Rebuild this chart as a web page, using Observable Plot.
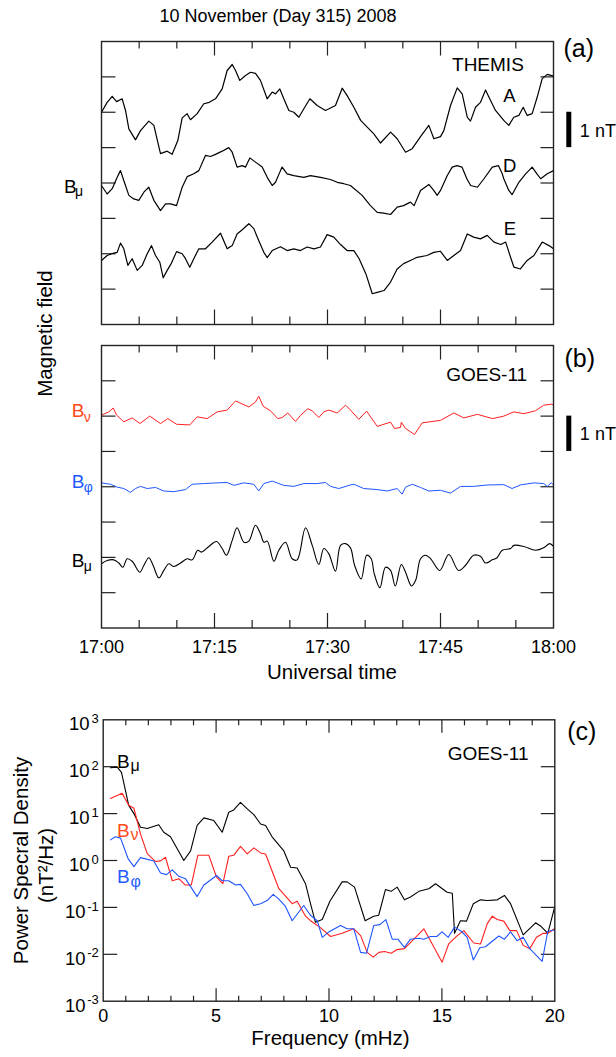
<!DOCTYPE html>
<html>
<head>
<meta charset="utf-8">
<script src="https://cdn.jsdelivr.net/npm/d3@7"></script>
<script src="https://cdn.jsdelivr.net/npm/@observablehq/plot@0.6"></script>
<style>
html, body { margin: 0; padding: 0; background: #fff; }
#root { position: relative; width: 616px; height: 1057px; overflow: hidden; background: #fff;
  font-family: "Liberation Sans", Arial, Helvetica, sans-serif; }
#root svg { position: absolute; left: 0; }
#title { position: absolute; left: 0; top: 6.5px; width: 556px; text-align: center;
  font-size: 18px; line-height: 18px; color: #000; z-index: 5; }
</style>
</head>
<body>
<div id="root"><div id="title">10 November (Day 315) 2008</div></div>
<script>
// ---------------- DATA ----------------
// time in minutes after 17:00 UT, field in nT (arbitrary offsets)
const timeTicks = [0, 15, 30, 45, 60];
const timeTickLabels = ["17:00", "17:15", "17:30", "17:45", "18:00"];
const timeMinor = [5, 10, 20, 25, 35, 40, 50, 55];
const timeMajorInner = [15, 30, 45];
const fieldTicks = [1, 2, 3, 4, 5, 6, 7];

const themisA = [[0,6.00],[0.75,6.28],[1.42,6.45],[2,6.30],[2.74,6.38],[3.19,6.05],[3.63,5.53],[4.51,5.22],[5.18,5.48],[6.28,5.75],[6.95,5.63],[7.83,4.83],[8.72,4.90],[9.38,4.81],[10.13,5.20],[10.71,5.84],[11.37,5.96],[11.81,5.79],[12.7,5.96],[13.58,6.24],[14.3,6.28],[15.13,6.38],[16.02,6.66],[16.68,7.18],[17.35,7.35],[17.79,7.18],[18.36,6.90],[19.12,7.04],[19.78,7.13],[20.44,7.10],[21.1,6.90],[21.99,6.38],[22.66,6.57],[23.1,6.52],[23.67,6.66],[24.2,6.38],[24.87,6.05],[25.53,6.00],[26.2,5.86],[26.86,6.10],[27.66,6.38],[28.63,6.19],[29.73,6.05],[31.06,6.19],[31.95,6.68],[32.61,6.47],[33.5,6.14],[34.4,5.77],[35.27,5.58],[36.15,5.39],[37.04,5.13],[38.37,5.44],[39.25,5.25],[40.36,4.87],[41.24,4.97],[42.35,5.31],[43.45,5.63],[44.12,5.25],[45,5.31],[45.44,5.48],[46.33,6.19],[47.22,6.69],[47.88,6.52],[48.55,5.86],[48.98,5.75],[49.65,6.14],[50.31,6.28],[50.98,6.63],[51.42,6.43],[52.3,6.05],[53.4,5.77],[54.07,5.63],[54.73,5.86],[55.4,5.91],[55.98,6.14],[56.51,5.91],[57.17,5.96],[57.84,6.43],[58.5,6.95],[59.17,7.07],[60,7.02]];

const themisD = [[0,3.93],[0.75,3.69],[1.42,3.84],[2.08,4.16],[2.52,4.35],[2.96,4.07],[3.63,3.65],[4.29,3.55],[4.95,3.51],[5.62,3.74],[6.28,3.88],[6.95,3.51],[7.83,3.22],[8.5,3.41],[9.16,3.41],[9.96,3.36],[10.71,3.88],[11.37,4.18],[12.25,4.26],[12.92,4.35],[13.8,4.78],[14.47,4.75],[15.13,4.81],[16.02,4.90],[16.9,5.00],[17.35,4.87],[18.0,4.45],[18.68,4.49],[19.12,4.45],[19.69,4.71],[20.44,4.59],[21.33,4.45],[22.0,4.16],[22.66,3.93],[23.1,4.02],[23.76,4.35],[23.98,4.45],[24.64,4.26],[25.53,4.21],[26.86,4.16],[27.74,4.21],[29.07,4.16],[30.4,4.10],[31.29,4.02],[32.17,3.98],[33.05,3.93],[34.6,3.65],[35.7,3.36],[36.6,3.17],[37.45,3.15],[38.37,3.11],[39.25,3.32],[40.1,3.36],[41.0,3.46],[41.5,3.36],[42.35,3.79],[43.45,3.96],[44.1,3.79],[44.56,3.65],[45,3.79],[45.9,4.21],[46.55,4.45],[47.2,4.49],[47.85,4.45],[48.5,4.12],[49.0,3.93],[49.9,3.88],[50.77,4.12],[51.87,4.45],[52.7,4.49],[53.2,4.26],[53.4,4.12],[54.07,3.79],[54.5,3.67],[55.4,4.02],[56.3,4.26],[57.17,4.45],[57.8,4.26],[58.3,4.12],[59.17,4.26],[60,4.35]];

const themisE = [[0,1.81],[0.75,1.95],[1.63,2.02],[2.08,2.04],[2.52,2.30],[2.96,2.14],[3.5,1.67],[4.07,1.86],[4.74,1.53],[5.4,1.67],[6.07,2.00],[6.64,2.23],[7.17,1.95],[7.74,1.76],[8.19,1.32],[8.72,1.53],[9.25,1.72],[9.96,2.06],[10.71,2.00],[11.15,1.86],[11.72,1.62],[12.25,1.86],[12.92,2.14],[13.8,2.14],[14.69,2.33],[15.8,2.58],[16.68,2.14],[17.35,2.23],[18.0,2.56],[18.68,2.68],[19.56,2.85],[20.22,2.71],[20.88,2.37],[21.55,2.04],[22.0,1.89],[22.66,2.09],[23.76,2.20],[24.64,2.09],[25.53,2.14],[26.4,2.09],[27.3,2.19],[28.2,2.14],[29.07,2.19],[29.95,2.54],[30.84,2.47],[31.73,2.26],[32.6,2.09],[33.5,2.09],[34.2,1.86],[35.1,1.43],[35.94,0.87],[36.6,0.91],[37.5,0.96],[38.37,1.20],[39.25,1.57],[40.1,1.72],[41.0,1.81],[41.9,1.90],[43.2,1.95],[44.1,2.04],[45,2.07],[45.9,1.81],[46.77,1.95],[47.66,2.09],[48.55,2.56],[49.4,2.47],[50.3,2.42],[51.2,2.52],[52.1,2.33],[53,2.26],[53.65,2.33],[54.3,1.90],[54.75,1.62],[55.6,1.57],[56.5,1.81],[57.4,1.95],[58.5,2.33],[59.4,2.23],[60,2.14]];

const goesBnu = [[0,6.03],[0.97,6.12],[1.55,6.23],[2.0,6.03],[2.96,5.84],[4.07,5.95],[5.1,5.79],[6.4,6.00],[7.83,5.79],[8.8,5.93],[9.96,5.77],[11.72,5.75],[12.7,5.98],[14.03,5.93],[15.36,6.12],[16.68,6.17],[17.79,6.43],[19.56,6.26],[20.44,6.40],[20.88,6.56],[21.46,6.28],[22.43,6.15],[23.4,5.93],[23.98,5.96],[24.73,6.09],[25.75,5.85],[26.42,6.02],[27.39,6.21],[27.97,6.15],[28.85,5.96],[29.51,6.12],[30.18,6.17],[31.29,6.09],[32.4,6.31],[33.05,6.17],[34.15,5.91],[35.2,6.14],[36.6,5.71],[38.37,5.83],[38.9,5.65],[39.7,5.68],[39.8,5.83],[40.36,5.65],[41.55,5.48],[42.57,5.81],[45.0,5.88],[46.77,6.09],[48.1,5.95],[49.9,6.05],[51.9,5.93],[53.4,6.00],[54.73,6.12],[56.06,6.07],[57.6,6.15],[58.7,6.31],[59.8,6.34],[60,6.30]];

const goesBphi = [[0,4.11],[1.2,4.07],[2.08,3.99],[2.96,3.95],[3.85,3.84],[4.51,3.95],[5.18,4.01],[6.07,3.95],[7.17,3.98],[8.27,3.88],[9.6,3.86],[11.15,3.92],[12.04,4.07],[13.58,4.09],[15.36,4.11],[16.68,4.12],[17.57,4.04],[18.9,4.11],[20.22,4.07],[20.88,3.88],[21.55,4.09],[22.66,4.16],[24.2,4.04],[25.53,4.01],[26.86,4.09],[28.63,4.09],[29.73,4.12],[30.4,4.01],[31.5,3.95],[33.05,4.05],[33.5,4.07],[34.8,3.95],[36.6,3.92],[37.93,3.88],[39.25,3.95],[39.9,3.79],[40.36,3.99],[41.25,4.07],[42.35,3.98],[43.45,3.88],[45,3.90],[46.33,3.82],[47.66,4.01],[49.4,4.01],[51.2,4.05],[53.4,4.06],[54.5,3.95],[55.6,4.05],[57.4,4.11],[58.7,4.09],[59.17,4.01],[59.7,4.11],[60,4.05]];

const goesBmu = [[0,1.82],[0.75,1.91],[1.63,1.93],[2.3,1.84],[2.83,1.72],[3.41,1.96],[4.07,1.89],[5.08,1.58],[5.62,1.77],[6.28,1.99],[6.86,1.77],[7.61,1.42],[8.27,1.63],[8.94,1.82],[9.6,1.74],[10.49,1.84],[11.37,1.96],[12.04,1.93],[12.78,2.20],[13.27,2.15],[14.25,2.31],[15.27,2.45],[16.02,2.25],[16.59,2.06],[17.35,2.48],[18.0,2.84],[18.9,2.43],[19.56,2.46],[20.44,2.91],[21.1,2.67],[21.55,2.43],[22.0,2.46],[22.88,1.89],[23.54,2.20],[24.42,2.43],[25.31,1.96],[25.97,1.93],[27.08,2.84],[27.97,2.34],[28.85,1.80],[29.51,2.25],[30.18,2.10],[31.06,1.61],[31.73,2.34],[32.4,2.39],[33.05,2.27],[33.6,1.77],[34.47,1.39],[35.2,2.06],[35.8,1.96],[36.2,1.54],[36.95,1.14],[37.7,1.72],[38.37,1.63],[39.0,1.19],[39.8,1.80],[40.36,1.58],[41.15,1.19],[41.7,1.35],[42.35,1.96],[43.0,2.06],[43.7,1.96],[44.9,1.63],[46.1,2.08],[47.4,1.63],[48.3,1.77],[49.4,2.06],[50.3,2.03],[50.98,1.84],[51.87,1.93],[52.5,1.99],[53.2,2.20],[54.3,2.25],[54.75,2.34],[56.06,2.31],[57.6,2.20],[58.7,2.27],[59.5,2.39],[60,2.31]];

// power spectral density: frequency (mHz), PSD (nT^2/Hz)
const freqTicks = [0, 5, 10, 15, 20];
const freqMinor = [1,2,3,4,6,7,8,9,11,12,13,14,16,17,18,19];
const freqMajorInner = [5, 10, 15];
const psdTicks = [1e-3, 1e-2, 1e-1, 1e0, 1e1, 1e2, 1e3];
const psdExponents = ["-3", "-2", "-1", "0", "1", "2", "3"];
const psdInnerTicks = [1e-2, 1e-1, 1e0, 1e1, 1e2];

const psdBmu = [[0.32,95],[0.62,98],[0.81,76],[1.13,15],[1.36,10],[1.65,5.1],[1.95,4.8],[2.46,5.8],[2.68,4.0],[2.98,3.2],[3.57,1.0],[3.87,1.6],[4.16,5.6],[4.46,8.1],[4.9,7.1],[5.27,4.0],[5.56,10.7],[5.78,12],[6.08,17.4],[6.38,12.6],[6.67,9.5],[6.97,6.0],[7.19,5.6],[7.48,3.2],[8.0,1.6],[8.3,0.72],[8.59,0.69],[8.96,0.32],[9.18,0.12],[9.4,0.048],[9.7,0.055],[10.04,0.135],[10.58,0.35],[10.8,0.35],[11.13,0.27],[11.6,0.052],[11.98,0.065],[12.2,0.068],[12.5,0.24],[12.75,0.22],[13.02,0.27],[13.34,0.145],[13.61,0.166],[13.98,0.22],[14.42,0.25],[14.72,0.32],[15.23,0.21],[15.46,0.2],[15.56,0.028],[15.82,0.052],[16.09,0.051],[16.39,0.12],[16.71,0.145],[17.01,0.14],[17.45,0.145],[17.77,0.18],[18.04,0.12],[18.6,0.026],[19.15,0.047],[19.4,0.039],[19.69,0.028],[19.99,0.1]];

const psdBnu = [[0.32,21],[0.84,27],[1.13,15],[1.36,13],[1.65,3.7],[1.95,1.4],[2.32,0.95],[2.54,0.98],[2.76,1.17],[3.06,0.37],[3.35,0.41],[3.64,0.30],[3.9,0.30],[4.19,1.29],[4.68,1.29],[5.02,0.44],[5.3,0.32],[5.56,1.23],[5.78,1.29],[6.08,2.0],[6.38,1.38],[6.67,1.86],[6.97,1.45],[7.19,1.38],[7.78,0.25],[8.37,0.12],[8.59,0.135],[8.96,0.065],[9.18,0.052],[9.62,0.037],[10.07,0.024],[10.58,0.028],[11.1,0.035],[11.4,0.025],[11.69,0.011],[11.96,0.0087],[12.21,0.011],[12.46,0.0115],[12.75,0.0105],[13.02,0.0126],[13.34,0.0132],[13.76,0.021],[14.2,0.035],[14.57,0.0166],[15.01,0.0068],[15.3,0.0166],[15.68,0.025],[15.97,0.032],[16.41,0.0174],[16.71,0.0166],[17.01,0.045],[17.23,0.065],[17.45,0.055],[17.74,0.051],[18.01,0.032],[18.31,0.032],[18.6,0.0155],[18.89,0.0132],[19.19,0.023],[19.49,0.028],[19.69,0.028],[19.99,0.035]];

const psdBphi = [[0.32,2.75],[0.54,3.2],[0.77,3.0],[1.1,1.1],[1.36,0.74],[1.65,1.15],[2.24,0.98],[2.54,0.54],[2.8,0.5],[3.06,0.63],[3.35,0.46],[3.64,0.41],[4.16,0.17],[4.46,0.30],[5.02,0.48],[5.27,0.37],[5.56,0.37],[5.86,0.30],[6.08,0.31],[6.38,0.195],[6.67,0.11],[6.97,0.12],[7.26,0.14],[7.53,0.19],[7.78,0.15],[8.07,0.105],[8.37,0.052],[8.88,0.11],[9.18,0.068],[9.48,0.052],[9.7,0.023],[9.99,0.03],[10.51,0.041],[10.8,0.035],[11.1,0.035],[11.4,0.011],[11.66,0.0105],[11.98,0.041],[12.25,0.043],[12.52,0.055],[12.8,0.021],[13.05,0.021],[13.34,0.014],[13.61,0.021],[13.98,0.022],[14.2,0.021],[14.5,0.024],[14.77,0.024],[15.01,0.03],[15.28,0.023],[15.56,0.038],[15.86,0.031],[16.12,0.023],[16.39,0.0076],[16.68,0.0138],[16.93,0.0145],[17.23,0.019],[17.52,0.0245],[17.77,0.021],[18.04,0.03],[18.33,0.0195],[18.6,0.023],[18.89,0.0132],[19.44,0.0071],[19.69,0.031],[19.99,0.033]];

// ---------------- STYLE / HELPERS ----------------
const FONT = '"Liberation Sans", Arial, Helvetica, sans-serif';
const RED = "#ff1f1f", BLUE = "#1f55ff";
const RED_LABEL = "#ff4a1c", BLUE_LABEL = "#1f5cff";
const svgStyle = {fontFamily: FONT, background: "transparent", overflow: "visible", color: "#000"};
const tickShape = {draw(ctx, l) { ctx.moveTo(0, 0); ctx.lineTo(0, -l); }};
const rotFor = {top: 180, bottom: 0, left: 90, right: -90};
function ticks(values, anchor, length) {
  const o = {frameAnchor: anchor, length, rotate: rotFor[anchor], anchor: "start", shape: tickShape,
             stroke: "#222", strokeWidth: 1.2, strokeLinecap: "butt"};
  return (anchor === "top" || anchor === "bottom")
    ? Plot.vector(values, {x: d => d, ...o})
    : Plot.vector(values, {y: d => d, ...o});
}
const P = d => d[0], V = d => d[1];
function label(list, opts) {
  return Plot.text(list, {x: "x", y: "y", text: "s", fontFamily: FONT, ...opts});
}
function place(svg, top) { svg.style.top = top + "px"; document.getElementById("root").appendChild(svg); }

// ---------------- PANEL (a) THEMIS ----------------
const panelA = Plot.plot({
  width: 616, height: 335,
  marginTop: 41, marginBottom: 11, marginLeft: 101, marginRight: 63,
  x: {domain: [0, 60], axis: null},
  y: {domain: [0, 8], axis: null},
  style: svgStyle,
  marks: [
    ticks(timeMajorInner, "top", 14), ticks(timeMinor, "top", 7),
    ticks(timeMajorInner, "bottom", 15), ticks(timeMinor, "bottom", 8),
    ticks(fieldTicks, "left", 14), ticks(fieldTicks, "right", 13),
    Plot.line(themisA, {x: P, y: V, stroke: "#000", strokeWidth: 1.2}),
    Plot.line(themisD, {x: P, y: V, stroke: "#000", strokeWidth: 1.2}),
    Plot.line(themisE, {x: P, y: V, stroke: "#000", strokeWidth: 1.2}),
    Plot.frame({stroke: "#222", strokeWidth: 1.4}),
    label([{s: "THEMIS", x: 56.06, y: 7.16}], {textAnchor: "end", lineAnchor: "bottom", fontSize: 19}),
    label([{s: "A", x: 54.14, y: 6.28}, {s: "D", x: 54.2, y: 4.31}, {s: "E", x: 54.2, y: 2.52}],
          {textAnchor: "middle", lineAnchor: "bottom", fontSize: 18.5}),
    label([{s: "(a)", x: 61.33, y: 7.556}], {textAnchor: "start", lineAnchor: "bottom", fontSize: 25}),
    Plot.ruleX([{x: 62.03}], {x: "x", y1: 5, y2: 6, stroke: "#000", strokeWidth: 5}),
    label([{s: "1 nT", x: 63.5, y: 5.3}], {textAnchor: "start", lineAnchor: "bottom", fontSize: 18}),
    label([{s: "B", x: -4.98, y: 3.73}], {textAnchor: "start", lineAnchor: "bottom", fontSize: 19}),
    label([{s: "μ", x: -4.98, y: 3.73}], {textAnchor: "start", lineAnchor: "bottom", fontSize: 14, dx: 11, dy: 3.5}),
    Plot.text(["Magnetic field"], {frameAnchor: "left", rotate: -90, dx: -55.7, dy: 150.5,
      textAnchor: "middle", lineAnchor: "middle", fontSize: 20.5, fontFamily: FONT})
  ]
});
place(panelA, 0);

// ---------------- PANEL (b) GOES-11 ----------------
const panelB = Plot.plot({
  width: 616, height: 365,
  marginTop: 10, marginBottom: 72.5, marginLeft: 101, marginRight: 63,
  x: {domain: [0, 60], axis: null},
  y: {domain: [0, 8], axis: null},
  style: svgStyle,
  marks: [
    ticks(timeMajorInner, "top", 14), ticks(timeMinor, "top", 7),
    ticks(timeMajorInner, "bottom", 15), ticks(timeMinor, "bottom", 8),
    ticks(fieldTicks, "left", 14), ticks(fieldTicks, "right", 13),
    Plot.line(goesBnu, {x: P, y: V, stroke: RED, strokeWidth: 1}),
    Plot.line(goesBphi, {x: P, y: V, stroke: BLUE, strokeWidth: 1}),
    Plot.line(goesBmu, {x: P, y: V, stroke: "#000", strokeWidth: 1.1, curve: "catmull-rom"}),
    Plot.frame({stroke: "#222", strokeWidth: 1.4}),
    label([{s: "GOES-11", x: 56.5, y: 7.0}], {textAnchor: "end", lineAnchor: "bottom", fontSize: 19}),
    label([{s: "(b)", x: 61.46, y: 7.39}], {textAnchor: "start", lineAnchor: "bottom", fontSize: 25}),
    Plot.ruleX([{x: 62.03}], {x: "x", y1: 5, y2: 6, stroke: "#000", strokeWidth: 5}),
    label([{s: "1 nT", x: 63.5, y: 5.32}], {textAnchor: "start", lineAnchor: "bottom", fontSize: 18}),
    label([{s: "B", x: -3.96, y: 5.97}], {textAnchor: "start", lineAnchor: "bottom", fontSize: 19, fill: RED_LABEL}),
    label([{s: "ν", x: -3.96, y: 5.97}], {textAnchor: "start", lineAnchor: "bottom", fontSize: 14, dx: 12, dy: 4.5, fill: RED_LABEL}),
    label([{s: "B", x: -3.96, y: 3.96}], {textAnchor: "start", lineAnchor: "bottom", fontSize: 19, fill: BLUE_LABEL}),
    label([{s: "φ", x: -3.96, y: 3.96}], {textAnchor: "start", lineAnchor: "bottom", fontSize: 14, dx: 12, dy: 4, fill: BLUE_LABEL}),
    label([{s: "B", x: -3.96, y: 1.72}], {textAnchor: "start", lineAnchor: "bottom", fontSize: 19}),
    label([{s: "μ", x: -3.96, y: 1.72}], {textAnchor: "start", lineAnchor: "bottom", fontSize: 14, dx: 12, dy: 3.5}),
    Plot.text(timeTicks, {x: d => d, text: (d, i) => timeTickLabels[i], frameAnchor: "bottom",
      dy: 25.2, lineAnchor: "bottom", fontSize: 18, fontFamily: FONT}),
    Plot.text(["Universal time"], {frameAnchor: "bottom", dx: 4.5, dy: 50.8, lineAnchor: "bottom",
      fontSize: 20.5, fontFamily: FONT})
  ]
});
place(panelB, 335);

// ---------------- PANEL (c) PSD ----------------
const posExp = psdTicks.map((v, i) => ({v, e: psdExponents[i]})).filter(d => !d.e.startsWith("-"));
const negExp = psdTicks.map((v, i) => ({v, e: psdExponents[i]})).filter(d => d.e.startsWith("-"));
const panelC = Plot.plot({
  width: 616, height: 357,
  marginTop: 19.3, marginBottom: 56.3, marginLeft: 102.7, marginRight: 61.7,
  x: {domain: [0, 20], axis: null},
  y: {type: "log", domain: [1e-3, 1e3], axis: null},
  style: svgStyle,
  marks: [
    ticks(freqMajorInner, "top", 13), ticks(freqMinor, "top", 5.5),
    ticks(freqMajorInner, "bottom", 13), ticks(freqMinor, "bottom", 5.5),
    ticks(psdInnerTicks, "left", 14), ticks(psdInnerTicks, "right", 14),
    Plot.line(psdBmu, {x: P, y: V, stroke: "#000", strokeWidth: 1.1}),
    Plot.line(psdBnu, {x: P, y: V, stroke: RED, strokeWidth: 1.1}),
    Plot.line(psdBphi, {x: P, y: V, stroke: BLUE, strokeWidth: 1.1}),
    Plot.frame({stroke: "#222", strokeWidth: 1.4}),
    label([{s: "GOES-11", x: 18.84, y: 137}], {textAnchor: "end", lineAnchor: "bottom", fontSize: 19}),
    label([{s: "(c)", x: 20.55, y: 363}], {textAnchor: "start", lineAnchor: "bottom", fontSize: 25}),
    label([{s: "B", x: 0.61, y: 96}], {textAnchor: "start", lineAnchor: "bottom", fontSize: 19}),
    label([{s: "μ", x: 0.61, y: 96}], {textAnchor: "start", lineAnchor: "bottom", fontSize: 16, dx: 13.5, dy: 3}),
    label([{s: "B", x: 0.61, y: 3.1}], {textAnchor: "start", lineAnchor: "bottom", fontSize: 19, fill: RED_LABEL}),
    label([{s: "ν", x: 0.61, y: 3.1}], {textAnchor: "start", lineAnchor: "bottom", fontSize: 16, dx: 13.5, dy: 3, fill: RED_LABEL}),
    label([{s: "B", x: 0.61, y: 0.324}], {textAnchor: "start", lineAnchor: "bottom", fontSize: 19, fill: BLUE_LABEL}),
    label([{s: "φ", x: 0.61, y: 0.324}], {textAnchor: "start", lineAnchor: "bottom", fontSize: 16, dx: 13.5, dy: 4, fill: BLUE_LABEL}),
    // y tick labels 10^n
    Plot.text(posExp, {y: "v", text: () => "10", frameAnchor: "left", textAnchor: "end", lineAnchor: "middle",
      dx: -13.7, dy: 4.5, fontSize: 18.5, fontFamily: FONT}),
    Plot.text(negExp, {y: "v", text: () => "10", frameAnchor: "left", textAnchor: "end", lineAnchor: "middle",
      dx: -17.7, dy: 4.5, fontSize: 18.5, fontFamily: FONT}),
    Plot.text([...posExp, ...negExp], {y: "v", text: "e", frameAnchor: "left", textAnchor: "end", lineAnchor: "middle",
      dx: -4.5, dy: -1, fontSize: 13, fontFamily: FONT}),
    Plot.text(freqTicks, {x: d => d, text: d => String(d), frameAnchor: "bottom", dy: 21,
      lineAnchor: "bottom", fontSize: 18, fontFamily: FONT}),
    Plot.text(["Frequency (mHz)"], {frameAnchor: "bottom", dx: 1.5, dy: 43.3, lineAnchor: "bottom",
      fontSize: 20.5, fontFamily: FONT}),
    Plot.text(["Power Specral Density"], {frameAnchor: "left", rotate: -90, dx: -82.1, dy: 0,
      textAnchor: "middle", lineAnchor: "middle", fontSize: 20.5, fontFamily: FONT}),
    Plot.text(["(nT²/Hz)"], {frameAnchor: "left", rotate: -90, dx: -56.7, dy: 5,
      textAnchor: "middle", lineAnchor: "middle", fontSize: 20.5, fontFamily: FONT})
  ]
});
place(panelC, 700);
</script>
</body>
</html>
